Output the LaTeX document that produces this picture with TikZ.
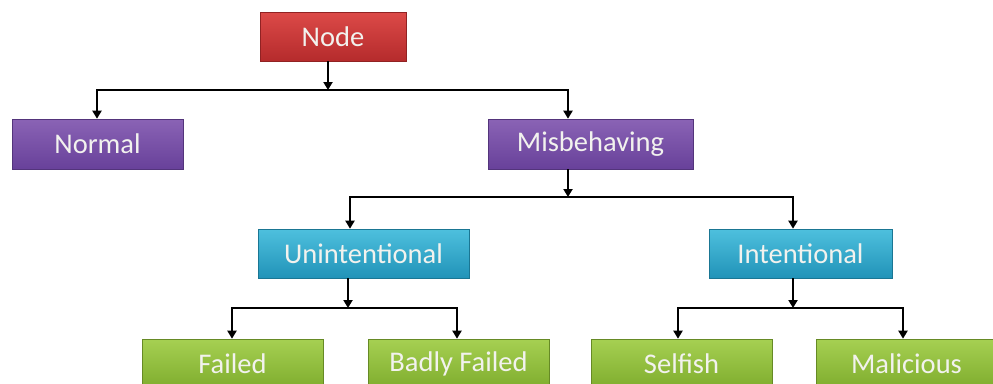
\documentclass[tikz,border=0pt]{standalone}
\usepackage{fontspec}
\setmainfont{Carlito}
\usetikzlibrary{arrows.meta}
\definecolor{redT}{HTML}{DC4A48}
\definecolor{redB}{HTML}{B52B2C}
\definecolor{purT}{HTML}{8A63B5}
\definecolor{purB}{HTML}{68419A}
\definecolor{cyaT}{HTML}{4EC0DE}
\definecolor{cyaB}{HTML}{2193B8}
\definecolor{greT}{HTML}{A6D052}
\definecolor{greB}{HTML}{7FAD2E}
\definecolor{txt}{HTML}{F2F2EE}
\tikzset{
  box/.style={rectangle, inner sep=0pt, text=txt, font=\fontsize{28.5}{30}\selectfont,
    minimum height=49pt},
  redbox/.style={box, top color=redT, bottom color=redB, draw=redB!80!black, line width=0.6pt},
  purbox/.style={box, top color=purT, bottom color=purB, draw=purB!80!black, line width=0.6pt},
  cyabox/.style={box, top color=cyaT, bottom color=cyaB, draw=cyaB!80!black, line width=0.6pt},
  grebox/.style={box, top color=greT, bottom color=greB, draw=greB!80!black, line width=0.6pt},
  conn/.style={line width=2.5pt, black, -{Triangle[width=9pt,length=8pt]}},
  plain/.style={line width=2.5pt, black, line cap=rect}
}
\begin{document}
\begin{tikzpicture}[x=1pt,y=-1pt]
\useasboundingbox (0,0) rectangle (993,383);
\fill[white] (0,0) rectangle (993,383);
\begin{scope}
\clip (0,0) rectangle (993,383);
\node[redbox, minimum width=146pt] (node) at (333,36.5) {Node};
\node[purbox, minimum width=171pt, minimum height=50pt] (normal) at (97.5,144) {Normal};
\node[purbox, minimum width=205pt, minimum height=50pt] (mis) at (590.5,144) {Misbehaving};
\node[cyabox, minimum width=211pt] (unint) at (363.5,253.5) {Unintentional};
\node[cyabox, minimum width=183pt] (int) at (800.5,253.5) {Intentional};
\node[grebox, minimum width=181pt] (failed) at (232.5,363.5) {Failed};
\node[grebox, minimum width=181pt] (badly) at (458.5,363.5) {Badly Failed};
\node[grebox, minimum width=181pt] (selfish) at (681.5,363.5) {Selfish};
\node[grebox, minimum width=181pt] (mal) at (906.5,363.5) {Malicious};

\coordinate (j1) at (328,90);
\coordinate (j2) at (568,197);
\coordinate (j3) at (348,308);
\coordinate (j4) at (793,308);
\coordinate (a1) at (97,90);
\coordinate (a2) at (568,90);
\coordinate (b1) at (350,197);
\coordinate (b2) at (793,197);
\coordinate (c1) at (232,308);
\coordinate (c2) at (457,308);
\coordinate (d1) at (678,308);
\coordinate (d2) at (903,308);

% Node level
\draw[conn] (node.south -| j1) -- (j1);
\draw[plain] (a1) -- (a2);
\draw[conn] (a1) -- (normal.north -| a1);
\draw[conn] (a2) -- (mis.north -| a2);

% Misbehaving level
\draw[conn] (mis.south -| j2) -- (j2);
\draw[plain] (b1) -- (b2);
\draw[conn] (b1) -- (unint.north -| b1);
\draw[conn] (b2) -- (int.north -| b2);

% Unintentional level
\draw[conn] (unint.south -| j3) -- (j3);
\draw[plain] (c1) -- (c2);
\draw[conn] (c1) -- (failed.north -| c1);
\draw[conn] (c2) -- (badly.north -| c2);

% Intentional level
\draw[conn] (int.south -| j4) -- (j4);
\draw[plain] (d1) -- (d2);
\draw[conn] (d1) -- (selfish.north -| d1);
\draw[conn] (d2) -- (mal.north -| d2);
\end{scope}
\end{tikzpicture}
\end{document}
